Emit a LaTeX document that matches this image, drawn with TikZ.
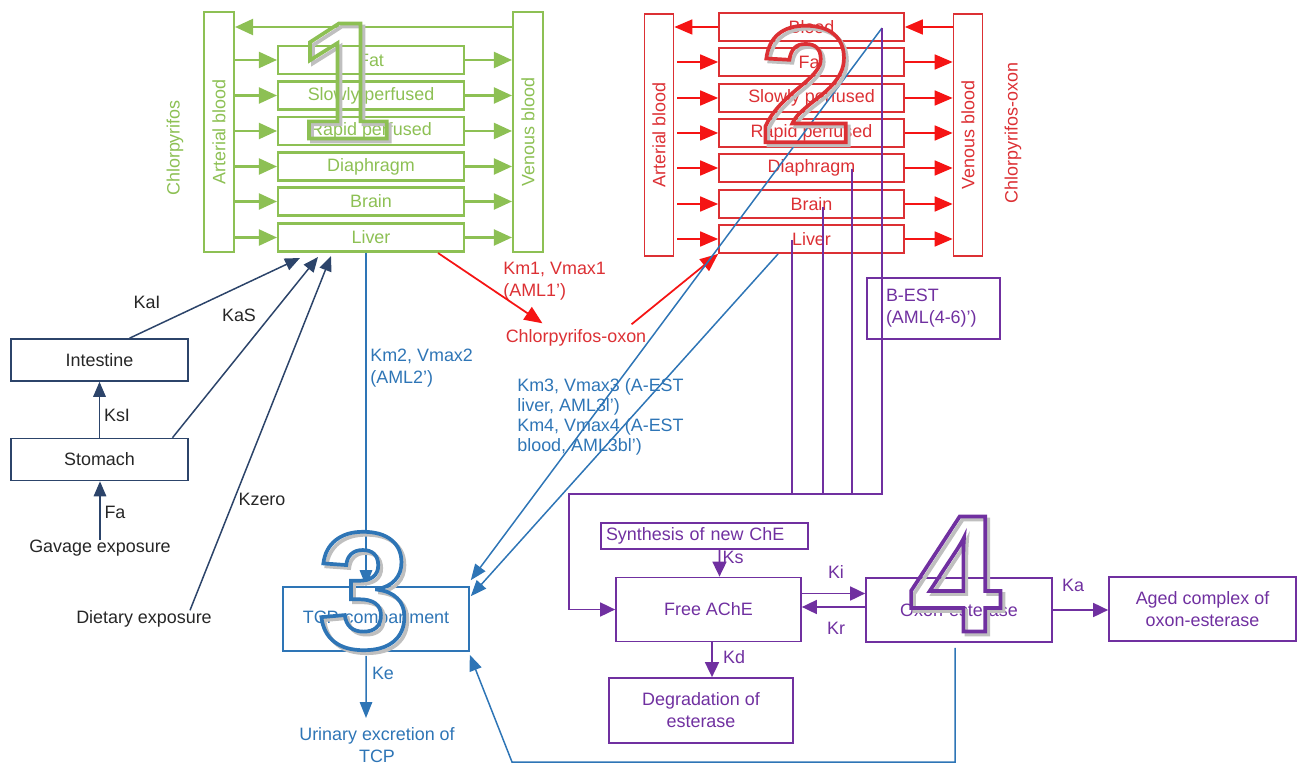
\documentclass[tikz,border=0pt]{standalone}
\usepackage{fontspec}
\setmainfont{Liberation Sans}
\usetikzlibrary{arrows.meta,positioning,calc}
\definecolor{cpgreen}{RGB}{141,192,84}
\definecolor{cpred}{RGB}{220,48,52}
\definecolor{cparrow}{RGB}{245,20,20}
\definecolor{cpblue}{RGB}{46,117,182}
\definecolor{cpnavy}{RGB}{44,68,106}
\definecolor{cppurple}{RGB}{112,48,160}
\newcommand{\hollowdigit}[1]{\special{pdf:literal direct 1 Tr 2.1 w}#1\special{pdf:literal direct 0 Tr}}
\tikzset{
  gorg/.style={draw=cpgreen, line width=1.2pt, text=cpgreen, minimum width=3.72cm, minimum height=0.56cm, inner sep=0pt},
  gcol/.style={draw=cpgreen, line width=1.2pt, minimum width=0.6cm, minimum height=4.8cm, inner sep=0pt},
  rorg/.style={draw=cpred, line width=1pt, text=cpred, minimum width=3.7cm, minimum height=0.56cm, inner sep=0pt},
  rcol/.style={draw=cpred, line width=1pt, minimum width=0.58cm, minimum height=4.84cm, inner sep=0pt},
  nbox/.style={draw=cpnavy, line width=0.9pt, text=black!85, minimum width=3.54cm, minimum height=0.84cm, inner sep=0pt},
  bbox/.style={draw=cpblue, line width=0.9pt, text=cpblue, minimum width=3.72cm, minimum height=1.28cm, inner sep=0pt},
  pbox/.style={draw=cppurple, line width=1pt, text=cppurple, minimum width=3.7cm, minimum height=1.28cm, inner sep=0pt, align=center},
  garr/.style={-{Triangle[length=0.36cm, width=0.32cm]}, cpgreen, line width=1.2pt},
  rarr/.style={-{Triangle[length=0.36cm, width=0.3cm]}, cparrow, line width=1pt},
  barr/.style={-{Triangle[length=0.32cm, width=0.25cm]}, cpblue, line width=0.85pt},
  narr/.style={-{Triangle[length=0.3cm, width=0.25cm]}, cpnavy, line width=0.85pt},
  parr/.style={-{Triangle[length=0.3cm, width=0.28cm]}, cppurple, line width=1pt},
  pline/.style={cppurple, line width=1pt},
  lbl/.style={inner sep=0pt, align=left},
  bignum/.style={font=\fontsize{95}{95}\selectfont\bfseries, inner sep=0pt},
}
\begin{document}
\begin{tikzpicture}[x=0.02cm, y=-0.02cm, font=\fontsize{10.2}{12.5}\selectfont]
\useasboundingbox (0,0) rectangle (1297,763);

% 1: chlorpyrifos
\node[gcol] (gart) at (219,132) {};
\node[gcol] (gven) at (528,132) {};
\node[rotate=90, text=cpgreen] at (gart) {Arterial blood};
\node[rotate=90, text=cpgreen] at (gven) {Venous blood};
\node[rotate=90, text=cpgreen] at (175,148) {Chlorpyrifos};
\foreach \n/\t/\y in {gfat/Fat/60, gslow/Slowly perfused/95.5, grap/Rapid perfused/131,
    gdia/Diaphragm/166.5, gbrain/Brain/201.5, gliver/Liver/237.5}{
  \node[gorg] (\n) at (371,\y) {\t};
  \draw[garr] (gart.east |- \n.west) -- (\n.west);
  \draw[garr] (\n.east) -- (\n.east -| gven.west);
}
\coordinate (gtop) at (0,27);
\draw[garr] (gven.west |- gtop) -- (gart.east |- gtop);

% 2: chlorpyrifos-oxon
\node[rcol] (rart) at (659,135) {};
\node[rcol] (rven) at (968,135) {};
\node[rotate=90, text=cpred] at (rart) {Arterial blood};
\node[rotate=90, text=cpred] at (rven) {Venous blood};
\node[rotate=90, text=cpred] at (1013,133) {Chlorpyrifos-oxon};
\node[rorg] (rblood) at (811.5,27) {Blood};
\foreach \n/\t/\y in {rfat/Fat/62, rslow/Slowly perfused/98, rrap/Rapid perfused/133,
    rdia/Diaphragm/168, rbrain/Brain/204, rliver/Liver/239}{
  \node[rorg] (\n) at (811.5,\y) {\t};
  \draw[rarr] ([xshift=0.06cm]rart.east |- \n.west) -- (\n.west);
  \draw[rarr] (\n.east) -- (\n.east -| rven.west);
}
\draw[rarr] (rblood.west) -- (rblood.west -| rart.east);
\draw[rarr] (rven.west |- rblood.east) -- (rblood.east);

% liver metabolism
\coordinate (gmetab) at (438,253);
\node[lbl, text=cpred] (oxon) at (576,338) {Chlorpyrifos-oxon};
\node[lbl, text=cpred, anchor=west] at (503,281) {Km1, Vmax1\\(AML1')};
\draw[rarr] (gmetab) -- ($(oxon.north west)+(37,-6)$);
\draw[rarr] ($(oxon.north east)+(-15,-5)$) -- (rliver.south west);

% left: oral uptake
\node[nbox] (intest) at (99.5,360) {Intestine};
\node[nbox] (stom) at (99.5,459.5) {Stomach};
\node[lbl, text=black!85] (gav) at (100,548) {Gavage exposure};
\node[lbl, text=black!85] (diet) at (144,619) {Dietary exposure};
\draw[narr] (stom) -- (intest);
\draw[narr] (gav.north) -- (gav.north |- stom.south);
\coordinate (gabsI) at (300,258);
\coordinate (gabsS) at (318,257);
\coordinate (gabsZ) at (331,256);
\draw[narr] ([xshift=0.6cm]intest.north) -- (gabsI);
\draw[narr] ([xshift=1.46cm]stom.north) -- (gabsS);
\draw[narr] ([xshift=0.92cm]diet.north) -- (gabsZ);
\node[lbl, text=black!85] at (147,302) {KaI};
\node[lbl, text=black!85] at (239,315) {KaS};
\node[lbl, text=black!85] at (117,415) {KsI};
\node[lbl, text=black!85] at (115,512) {Fa};
\node[lbl, text=black!85] at (262,499) {Kzero};

% 3: TCP
\node[bbox] (tcp) at (376,619) {TCP-compartment};
\node[lbl, text=cpblue, align=center] (urine) at (377,745) {Urinary excretion of\\TCP};
\coordinate (keend) at (366,718);
\draw[barr] ([xshift=-0.2cm, yshift=-0.08cm]tcp.south) -- (keend);
\node[lbl, text=cpblue] at (383,673) {Ke};
\draw[barr] ([xshift=-0.1cm]gliver.south) -- ([xshift=-0.1cm]gliver.south |- tcp.north);
\node[lbl, text=cpblue, anchor=west] at (370,368) {Km2, Vmax2\\(AML2')};
\coordinate (bblood) at (882,28);
\coordinate (bliver) at (778,254);
\draw[barr] (bblood) -- ($(tcp.north east)+(1,-6)$);
\draw[barr] (bliver) -- ($(tcp.north east)+(1,10)$);
\node[lbl, text=cpblue, anchor=west, font=\fontsize{10.2}{11.4}\selectfont] at (517,417)
  {Km3, Vmax3 (A-EST\\liver, AML3l')\\Km4, Vmax4 (A-EST\\blood, AML3bl')};

% 4: esterases
\node[pbox] (ache) at (708.5,609.5) {Free AChE};
\node[pbox, minimum width=3.72cm] (oxest) at (959,610) {Oxon-esterase};
\node[pbox, minimum width=3.74cm] (aged) at (1202.5,609) {Aged complex of\\oxon-esterase};
\node[pbox, minimum width=3.68cm, minimum height=1.3cm] (degr) at (701,710.5) {Degradation of\\esterase};
\node[pbox, minimum width=0cm, minimum height=0.52cm, text width=3.94cm, inner xsep=0.1cm, align=left] (synth) at (704.5,536) {Synthesis of new ChE};
\node[pbox, minimum width=0cm, minimum height=1.22cm, text width=1.9cm, inner xsep=0.38cm, align=left] (best) at (933.5,308.5) {B-EST\\(AML(4-6)')};
\draw[parr] ([xshift=0.3cm]synth.south) -- ([xshift=0.22cm]ache.north);
\draw[parr] ([yshift=0.32cm]ache.east) -- ([yshift=0.32cm]ache.east -| oxest.west);
\draw[parr] ([yshift=0.06cm]oxest.west) -- ([yshift=0.06cm]oxest.west -| ache.east);
\draw[parr] (oxest.east) -- (oxest.east -| aged.west);
\draw[parr] ([xshift=0.07cm]ache.south) -- ([xshift=0.07cm]ache.south |- degr.north);
\node[lbl, text=cppurple] at (733,557) {Ks};
\node[lbl, text=cppurple] at (836,572) {Ki};
\node[lbl, text=cppurple] at (836,628) {Kr};
\node[lbl, text=cppurple] at (734,657) {Kd};
\node[lbl, text=cppurple] at (1073,585) {Ka};
\coordinate (pliver) at (792,240);
\coordinate (pbrain) at (823,207);
\coordinate (pdia) at (852,169);
\coordinate (pblood) at (882,28);
\coordinate (pbus) at (569,494);
\foreach \c in {pliver,pbrain,pdia}{
  \draw[pline] (\c) -- (\c |- pbus);
}
\draw[parr] (pblood) |- (pbus) |- (ache.west);
\coordinate (bcorner) at (512,762);
\draw[barr] ($(oxest.south)+(-4,5)$) |- (bcorner) -- ($(tcp.south east)+(0,3)$);

% big section numbers
\foreach \d/\c/\x/\y in {1/cpgreen/345/81, 2/cpred/806/84, 3/cpblue/364/591, 4/cppurple/955/574}{
  \node[bignum, text=black!25] at (\x+3,\y+3) {\hollowdigit{\d}};
  \node[bignum, text=\c] (num\d) at (\x,\y) {\hollowdigit{\d}};
}
\end{tikzpicture}
\end{document}
